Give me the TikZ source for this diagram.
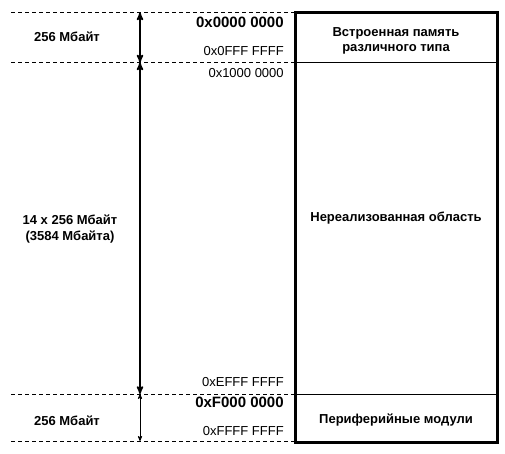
\documentclass[tikz,border=0pt]{standalone}
\usepackage{fontspec}
\setmainfont{Liberation Sans}
\usetikzlibrary{arrows}
\usetikzlibrary{positioning}

\begin{document}
\begin{tikzpicture}[x=1pt, y=-1pt, >=stealth', semithick]
            \tikzstyle{region}=[draw, thin, minimum width=202pt, inner sep=0pt, outer sep=0pt, align=center, font=\fontsize{13}{15}\selectfont\bfseries]
            \tikzstyle{level}=[line width=0.8pt, dash pattern=on 4pt off 3pt]
            \tikzstyle{size}=[align=center, font=\fontsize{13}{16}\selectfont\bfseries]
            \tikzstyle{addr}=[anchor=east, inner sep=0pt, font=\fontsize{13}{15}\selectfont]
            \tikzstyle{bigaddr}=[addr, font=\fontsize{15}{17}\selectfont\bfseries]

            \useasboundingbox (0,0) rectangle (505,454);

            % memory map
            \node[region, minimum height=50pt, text height=31pt] (emb) at (396,37.5) {Встроенная память\\различного типа};
            \node[region, minimum height=331.5pt, text depth=24pt, below=0pt of emb] (unimpl) {Нереализованная область};
            \node[region, minimum height=48pt, text height=13pt, below=0pt of unimpl] (periph) {Периферийные модули};
            \draw[line width=3pt] (emb.north west) rectangle (periph.south east);

            % levels
            \coordinate (d0) at (11,12.5);
            \coordinate (d1) at (11,62.5);
            \coordinate (d2) at (11,394);
            \coordinate (d3) at (11,441);
            \draw[level] (d0) -- (emb.north west);
            \draw[level] (d1) -- (emb.south west);
            \draw[level] (d2) -- (periph.north west);
            \draw[level] (d3) -- (periph.south west |- d3);

            % sizes
            \coordinate (s0) at (140,12.5);
            \coordinate (s1) at (140,62.5);
            \coordinate (s2) at (140,394);
            \coordinate (s3) at (140,441);
            \draw[<->, line width=1.6pt] (s0) -- (s1);
            \draw[<->, line width=1.6pt] (s1) -- (s2);
            \draw[<->, line width=0.8pt] (s2) -- (s3);

            \node[size] (sz0) at (67,37) {256 Мбайт};
            \node[size] (sz1) at (70,229) {14 x 256 Мбайт\\(3584 Мбайта)};
            \node[size] (sz2) at (67,421) {256 Мбайт};

            % addresses
            \node[bigaddr] (h0) at (284,22) {0x0000 0000};
            \node[addr] (h1) at (284,51.5) {0x0FFF FFFF};
            \node[addr] (h2) at (284,73.5) {0x1000 0000};
            \node[addr] (h3) at (284,382.5) {0xEFFF FFFF};
            \node[bigaddr] (h4) at (284,402.5) {0xF000 0000};
            \node[addr] (h5) at (284,431.5) {0xFFFF FFFF};
        \end{tikzpicture}
\end{document}
